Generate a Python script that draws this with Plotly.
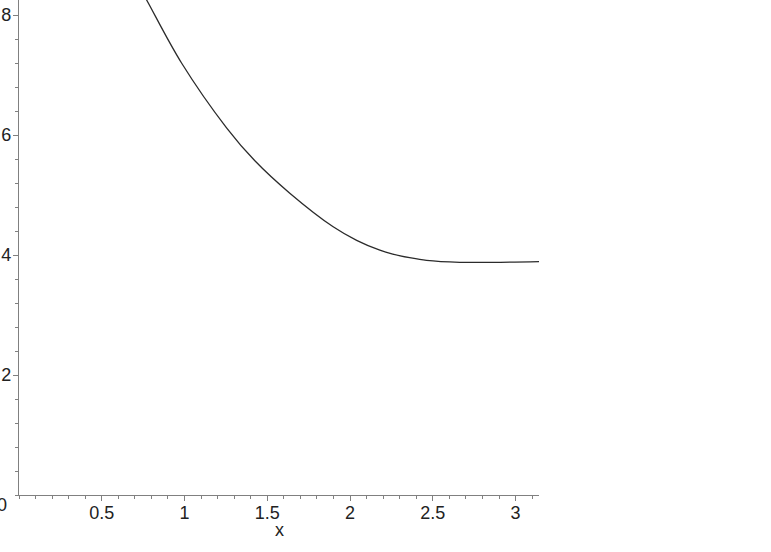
import plotly.graph_objects as go

x_vals = [0.70, 0.771, 0.982, 1.254, 1.425, 1.636, 1.898, 2.04, 2.18, 2.258, 2.36, 2.462, 2.663, 2.862, 3.1416]
y_vals = [8.60, 8.25, 7.20, 6.12, 5.57, 5.03, 4.47, 4.245, 4.08, 4.015, 3.955, 3.91, 3.878, 3.878, 3.89]

x_ticks = [0.5, 1, 1.5, 2, 2.5, 3]
x_ticklabels = ["0.5", "1", "1.5", "2", "2.5", "3"]
y_ticks = [2, 4, 6, 8]
y_ticklabels = ["2", "4", "6", "8"]

FONT = "Liberation Sans, Arial, Helvetica, sans-serif"
AXIS_COLOR = "#808080"
TEXT_COLOR = "#222222"

fig = go.Figure()
fig.add_trace(go.Scatter(
    x=x_vals, y=y_vals, mode="lines",
    line=dict(color="#2b2b2b", width=1.3, shape="spline", smoothing=1.0),
    showlegend=False, hoverinfo="skip"))

fig.update_layout(
    width=771, height=552,
    margin=dict(l=19, r=232, t=0, b=57),
    paper_bgcolor="white", plot_bgcolor="white",
    font=dict(family=FONT, size=18, color=TEXT_COLOR),
    xaxis=dict(
        range=[0, 3.14159], showgrid=False, zeroline=False, automargin=False,
        showline=True, linecolor=AXIS_COLOR, linewidth=1.2,
        ticks="outside", ticklen=5, tickcolor=AXIS_COLOR, tickwidth=1,
        tickvals=x_ticks, ticktext=x_ticklabels,
        ticklabelstandoff=-4,
        minor=dict(dtick=0.1, tick0=0, ticks="outside", ticklen=3,
                   tickcolor=AXIS_COLOR, tickwidth=1, showgrid=False),
    ),
    yaxis=dict(
        range=[0, 8.25], showgrid=False, zeroline=False, automargin=False,
        showline=True, linecolor=AXIS_COLOR, linewidth=1.2,
        ticks="outside", ticklen=5, tickcolor=AXIS_COLOR, tickwidth=1,
        tickvals=y_ticks, ticktext=y_ticklabels,
        ticklabelstandoff=-2,
        minor=dict(dtick=0.4, tick0=0, ticks="outside", ticklen=3,
                   tickcolor=AXIS_COLOR, tickwidth=1, showgrid=False),
    ),
)

# origin label and axis title
fig.add_annotation(x=0, y=0, xref="x", yref="y", text="0", showarrow=False,
                   xanchor="right", yanchor="top", xshift=-10, yshift=2,
                   font=dict(size=18, family=FONT, color=TEXT_COLOR))
fig.add_annotation(x=0.5, y=-0.0707, xref="paper", yref="paper", text="x",
                   showarrow=False, xanchor="center", yanchor="middle",
                   font=dict(size=18, family=FONT, color=TEXT_COLOR))

fig.write_html("out.html",
               config={"displayModeBar": False},
               post_script="document.body.style.margin='0';document.body.style.padding='0';")
